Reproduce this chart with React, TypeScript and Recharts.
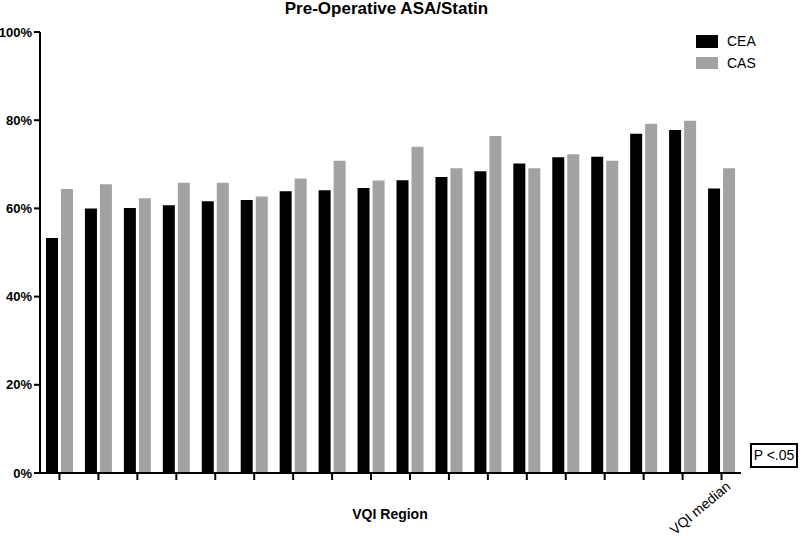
import React from 'react';
import { BarChart, Bar, XAxis, YAxis } from 'recharts';

const regions = [
  'R1', 'R2', 'R3', 'R4', 'R5', 'R6', 'R7', 'R8', 'R9',
  'R10', 'R11', 'R12', 'R13', 'R14', 'R15', 'R16', 'R17', 'VQI median',
];
const ceaValues = [53.3, 60.0, 60.1, 60.7, 61.6, 61.9, 63.9, 64.1, 64.6, 66.4, 67.1, 68.4, 70.2, 71.6, 71.7, 76.9, 77.8, 64.5];
const casValues = [64.4, 65.5, 62.3, 65.8, 65.8, 62.7, 66.8, 70.8, 66.3, 74.0, 69.1, 76.4, 69.1, 72.3, 70.8, 79.2, 79.9, 69.1];
const yTicks = [0, 20, 40, 60, 80, 100];
const shownLabel = 'VQI median';

const data = regions.map((r, i) => ({ region: r, CEA: ceaValues[i], CAS: casValues[i] }));

const FONT = '"Liberation Sans", Arial, sans-serif';
const GRAY = '#a2a2a5';

const XTick = (props: any) => {
  const { x, y, payload } = props;
  if (payload.value !== shownLabel) return null;
  const ax = x + 10;
  const ay = y + 6;
  return (
    <text
      x={ax}
      y={ay}
      transform={`rotate(-40, ${ax}, ${ay})`}
      textAnchor="end"
      fontFamily={FONT}
      fontSize={14}
      fill="#000"
    >
      {payload.value}
    </text>
  );
};

export default function App() {
  return (
    <div style={{ position: 'absolute', left: 0, top: 0, width: 800, height: 539, background: '#fff', fontFamily: FONT }}>
      <BarChart
        width={800}
        height={539}
        data={data}
        margin={{ top: 32, right: 59, bottom: 6, left: 0 }}
        barCategoryGap={6}
        barGap={3}
      >
        <XAxis
          dataKey="region"
          height={60}
          interval={0}
          axisLine={{ stroke: '#000', strokeWidth: 2 }}
          tickLine={{ stroke: '#000', strokeWidth: 2 }}
          tickSize={7}
          tick={<XTick />}
        />
        <YAxis
          width={40}
          domain={[0, 100]}
          ticks={yTicks}
          interval={0}
          tickFormatter={(v: number) => `${v}%`}
          axisLine={{ stroke: '#000', strokeWidth: 2 }}
          tickLine={{ stroke: '#000', strokeWidth: 2 }}
          tickSize={6}
          tickMargin={2}
          tick={{ fontFamily: FONT, fontSize: 13, fontWeight: 'bold', fill: '#000' }}
        />
        <Bar dataKey="CEA" fill="#000" isAnimationActive={false} />
        <Bar dataKey="CAS" fill={GRAY} isAnimationActive={false} />
      </BarChart>

      <div style={{ position: 'absolute', left: 0, width: 773, top: -1, textAlign: 'center', fontSize: 17, fontWeight: 'bold', lineHeight: '19px' }}>
        Pre-Operative ASA/Statin
      </div>

      <div style={{ position: 'absolute', left: 696, top: 35, fontSize: 14 }}>
        {[
          { name: 'CEA', color: '#000' },
          { name: 'CAS', color: GRAY },
        ].map((it, i) => (
          <div key={it.name} style={{ position: 'absolute', left: 0, top: i * 21.5, display: 'flex', alignItems: 'center', height: 13 }}>
            <div style={{ width: 22, height: 12.5, background: it.color }} />
            <span style={{ marginLeft: 9, lineHeight: '13px' }}>{it.name}</span>
          </div>
        ))}
      </div>

      <div style={{ position: 'absolute', left: 0, width: 780, top: 506, textAlign: 'center', fontSize: 14, fontWeight: 'bold', lineHeight: '16px' }}>
        VQI Region
      </div>

      <div style={{ position: 'absolute', left: 750, top: 443, width: 44, height: 21, border: '2px solid #000', fontSize: 14, lineHeight: '21px', textAlign: 'center', whiteSpace: 'nowrap' }}>
        P &lt;.05
      </div>
    </div>
  );
}
